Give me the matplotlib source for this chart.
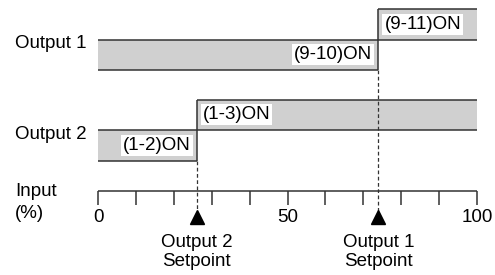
import matplotlib
matplotlib.use("Agg")
import matplotlib.pyplot as plt

plt.rcParams['font.family'] = ['Liberation Sans', 'DejaVu Sans']

# data
outputs = ["Output 1", "Output 2"]
setpoints = [74, 26]                     # input % where each output switches
off_labels = ["(9-10)ON", "(1-2)ON"]     # contact below setpoint
on_labels = ["(9-11)ON", "(1-3)ON"]      # contact above setpoint
tick_values = list(range(0, 101, 10))
tick_labels = {0: "0", 50: "50", 100: "100"}
setpoint_names = ["Output 1\nSetpoint", "Output 2\nSetpoint"]

# layout (y in pixels from top)
row_base = [70, 160.5]
band_h = 30.5
axis_y = 191
tick_len = 14
fill = "#d0d0d0"
edge = "#333333"
lw = 1.1
fs = 13.5

fig = plt.figure(figsize=(4.95, 2.75), dpi=100)
ax = fig.add_axes([0, 0, 1, 1])
ax.set_xlim(-98 / 3.79, (495 - 98) / 3.79)
ax.set_ylim(275, 0)
ax.axis("off")

for name, sp, lo, hi, base in zip(outputs, setpoints, off_labels, on_labels, row_base):
    top_lo = base - band_h
    top_hi = base - 2 * band_h
    ax.fill_between([0, sp], base, top_lo, color=fill, lw=0)
    ax.fill_between([sp, 100], top_lo, top_hi, color=fill, lw=0)
    ax.hlines([base, top_lo], 0, sp, color=edge, lw=lw)
    ax.hlines([top_lo, top_hi], sp, 100, color=edge, lw=lw)
    ax.vlines(sp, top_hi, base, color=edge, lw=lw)
    ax.vlines(sp, base, axis_y + 20, color=edge, lw=0.9, linestyles=(0, (3, 2)))
    ax.text(-21.9, top_lo + 9, name, fontsize=fs, ha="left", va="baseline")
    ax.text(sp - 1.6, base - band_h / 2, lo, fontsize=fs, ha="right", va="center",
            bbox=dict(facecolor="white", edgecolor="none", pad=1.5))
    ax.text(sp + 1.6, top_lo - band_h / 2, hi, fontsize=fs, ha="left", va="center",
            bbox=dict(facecolor="white", edgecolor="none", pad=1.5))

# input scale
ax.hlines(axis_y, 0, 100, color=edge, lw=lw)
ax.vlines(tick_values, axis_y, axis_y + tick_len, color=edge, lw=lw)
for v, lab in tick_labels.items():
    ax.text(v, axis_y + 27, lab, fontsize=fs, ha="center", va="center")
ax.text(-21.9, 192, "Input", fontsize=fs, ha="left", va="center")
ax.text(-21.9, 214, "(%)", fontsize=fs, ha="left", va="center")

for sp, lab in zip(setpoints, setpoint_names):
    ax.plot(sp, axis_y + 26, marker="^", color="black", markersize=10.5, ls="none")
    ax.text(sp, axis_y + 61, lab, fontsize=fs, ha="center", va="center", linespacing=1.15)

fig.savefig("out.png", dpi=100)
